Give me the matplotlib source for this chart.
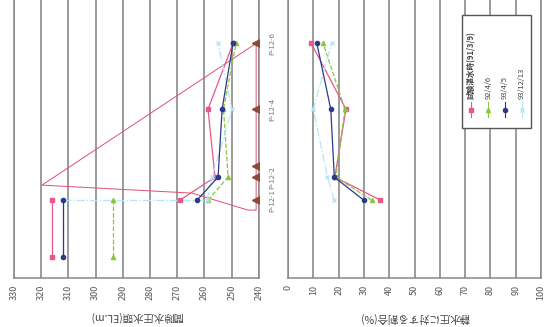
import matplotlib.pyplot as plt
from matplotlib.patches import Rectangle

plt.rcParams['font.family'] = ['Noto Sans CJK JP', 'DejaVu Sans']

# piezometer positions along the section (m)
stations = ['P-12-1', 'P-12-2', 'P-12-4', 'P-12-6']
station_pos = [78, 101, 169, 235]
tri_pos = [78, 101, 112, 169, 235]   # installed piezometers (P-12-3 has no reading)
tri_level = 241.0
res_pos = 21                         # reservoir side

dates = ['試験湛水時(91/3/9)', '92/4/6', '93/4/5', '93/12/13']
colors = ['#e8588a', '#8cc63f', '#2b3a8c', '#b5e6f4']
markers = ['s', '^', 'o', 'x']
styles = ['-', '--', '-', '-.']

# reservoir level (EL.m) and pore water pressure head at each station (EL.m)
reservoir = [316.0, 293.6, 312.0, 312.0]
head = [
    [269.0, 256.1, 258.7, 249.5],
    [258.7, 251.3, 253.0, 248.4],
    [262.7, 255.0, 253.5, 249.5],
    [259.0, 257.2, 249.9, 255.0],
]
# ratio to hydrostatic pressure (%)
ratio = [
    [36.5, 18.5, 22.9, 9.2],
    [33.0, 18.9, 22.5, 13.9],
    [29.9, 18.3, 16.9, 11.4],
    [18.3, 15.6, 10.0, 17.2],
]

# section outline
sec_x = [241.0, 319.7, 264.6, 244.0, 241.0, 241.0]
sec_y = [235, 93, 85, 68, 68, 235]

fig = plt.figure(figsize=(5.49, 3.27), dpi=100)
ax1 = fig.add_axes([0.0255, 0.150, 0.446, 0.87])
ax2 = fig.add_axes([0.5246, 0.150, 0.461, 0.87])

for ax in (ax1, ax2):
    ax.set_ylim(0, 285)
    ax.set_yticks([])
    ax.tick_params(axis='x', length=0, labelsize=6.5, labelcolor='#555555',
                   labelrotation=90, pad=5)
    ax.grid(axis='x', color='#808080', lw=1.1)
    for s in ax.spines.values():
        s.set_color('#888888')
        s.set_linewidth(1.1)
    ax.spines['top'].set_visible(False)

# left: pore water pressure head
ax1.set_xlim(330, 240)
ax1.set_xticks(range(330, 239, -10))
ax1.plot(sec_x, sec_y, color='#e05070', lw=0.7)
for i in range(4):
    # reservoir level at upstream end and at P-12-1
    ax1.plot([reservoir[i], reservoir[i]], [res_pos, station_pos[0]],
             color=colors[i], ls=styles[i], marker=markers[i], ms=3, lw=0.9,
             zorder=3 + (i == 2))
    ax1.plot(head[i], station_pos, color=colors[i], ls=styles[i],
             marker=markers[i], ms=3, lw=0.9, zorder=3 + (i == 2))
# drawdown from reservoir level to P-12-1 (93/12/13)
ax1.plot([reservoir[3], head[3][0]], [station_pos[0]] * 2, color=colors[3],
         ls=styles[3], lw=0.9, zorder=2)
ax1.plot([tri_level] * len(tri_pos), tri_pos, ls='none', marker='<', ms=6,
         color='#8a4a38', zorder=5)
for name, p in zip(stations, station_pos):
    ax1.text(1.055, p, name, transform=ax1.get_yaxis_transform(), rotation=90,
             ha='center', va='center', fontsize=5.5, color='#777777')
ax1.text(0.5, -0.135, '間隙水圧水頭(EL.m)', transform=ax1.transAxes, rotation=180,
         ha='center', va='center', fontsize=7.5, color='#444444')

# right: ratio to hydrostatic pressure
ax2.set_xlim(0, 100)
ax2.set_xticks(range(0, 101, 10))
for i in range(4):
    ax2.plot(ratio[i], station_pos, color=colors[i], ls=styles[i],
             marker=markers[i], ms=3, lw=0.9, zorder=3 + (i == 2))
ax2.text(0.5, -0.14, '静水圧に対する割合(%)', transform=ax2.transAxes, rotation=180,
         ha='center', va='center', fontsize=7.5, color='#444444')

# legend drawn sideways
ax2.add_patch(Rectangle((0.688, 0.528), 0.272, 0.396, transform=ax2.transAxes,
                        fc='white', ec='#555555', lw=1.0, zorder=6))
for i in range(4):
    lx = 0.725 + 0.066 * i
    ax2.plot([lx, lx, lx], [0.565, 0.591, 0.617], transform=ax2.transAxes,
             color=colors[i], ls='-', marker=markers[i], ms=3, markevery=[1],
             lw=0.8, zorder=7)
    ax2.text(lx, 0.63, dates[i], transform=ax2.transAxes, rotation=90,
             ha='center', va='bottom', fontsize=5.5, color='#444444', zorder=7,
             fontweight='bold' if i == 0 else 'normal')

fig.savefig('out.png', dpi=100)
